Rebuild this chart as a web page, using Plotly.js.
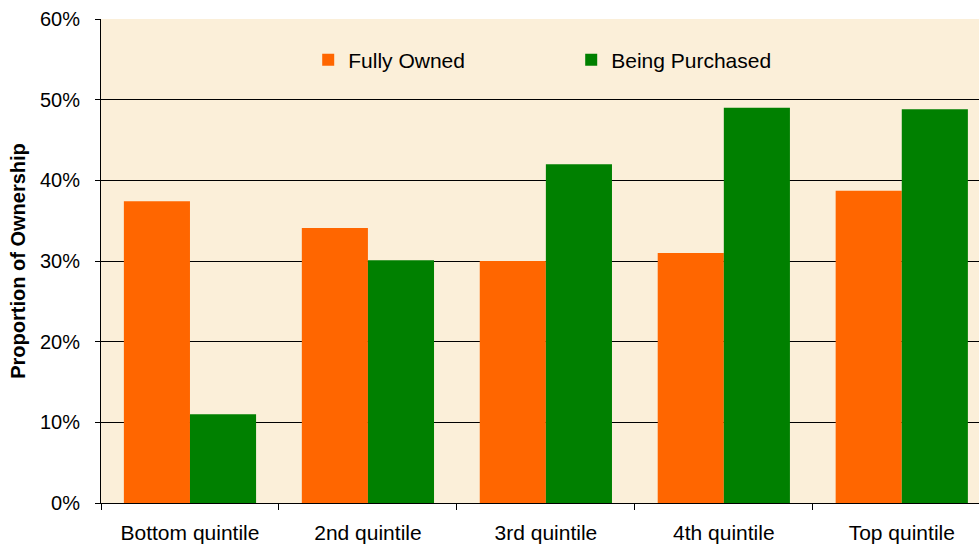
<!DOCTYPE html>
<html>
<head>
<meta charset="utf-8">
<script src="https://cdn.plot.ly/plotly-3.0.1.min.js"></script>
<style>html,body{margin:0;padding:0;overflow:hidden;background:#fff}</style>
</head>
<body>
<div id="chart" style="width:979px;height:550px"></div>
<script>
const categories = ["Bottom quintile", "2nd quintile", "3rd quintile", "4th quintile", "Top quintile"];
const fullyOwned = [0.374, 0.341, 0.300, 0.310, 0.387];
const beingPurchased = [0.110, 0.301, 0.420, 0.490, 0.488];
const seriesNames = ["Fully Owned", "Being Purchased"];
const yTickVals = [0, 0.1, 0.2, 0.3, 0.4, 0.5, 0.6];

const font = "Arial, 'Liberation Sans', sans-serif";
const data = [
  {type: "bar", name: seriesNames[0], x: categories, y: fullyOwned, marker: {color: "#FF6600"}, hoverinfo: "none"},
  {type: "bar", name: seriesNames[1], x: categories, y: beingPurchased, marker: {color: "#008000"}, hoverinfo: "none"}
];
const layout = {
  width: 979, height: 550,
  margin: {l: 101, r: 0, t: 19, b: 47},
  paper_bgcolor: "#ffffff",
  plot_bgcolor: "#FBEFD9",
  barmode: "group",
  bargap: 0.257,
  bargroupgap: 0,
  font: {family: font, color: "#000", size: 20},
  showlegend: true,
  legend: {
    orientation: "h", x: 0.236, xanchor: "left", y: 0.915, yanchor: "middle",
    bgcolor: "rgba(0,0,0,0)", font: {size: 21, family: font},
    entrywidth: 218, itemclick: false
  },
  xaxis: {
    type: "category",
    range: [-0.5, 4.434],
    showline: true, linecolor: "#000", linewidth: 1,
    ticks: "outside", tickson: "boundaries", ticklen: 6, tickcolor: "#000",
    tickfont: {size: 21, family: font},
    showgrid: false, zeroline: false,
    ticklabelstandoff: 11
  },
  yaxis: {
    range: [0, 0.6],
    tickvals: yTickVals,
    tickformat: ".0%",
    showline: true, linecolor: "#000", linewidth: 1,
    ticks: "outside", ticklen: 5, tickcolor: "#000",
    tickfont: {size: 20, family: font},
    showgrid: true, gridcolor: "#000", gridwidth: 1,
    zeroline: false,
    ticklabelstandoff: 11,
    title: {text: "<b>Proportion of Ownership</b>", font: {size: 20, family: font}, standoff: 8}
  }
};
Plotly.newPlot("chart", data, layout, {displayModeBar: false, staticPlot: true});
</script>
</body>
</html>
